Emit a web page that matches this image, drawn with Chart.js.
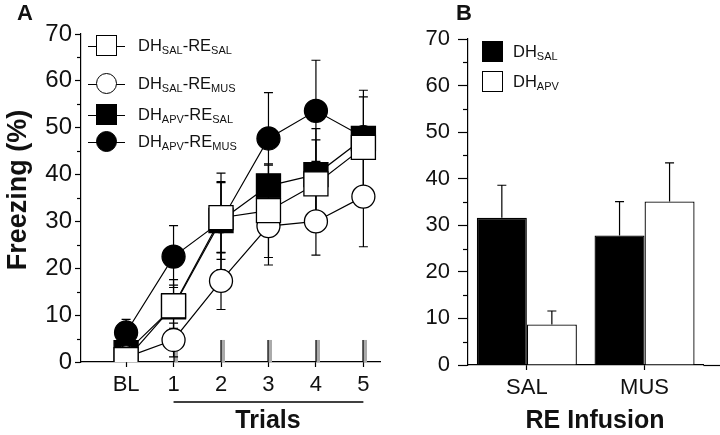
<!DOCTYPE html>
<html>
<head>
<meta charset="utf-8">
<script src="https://cdn.jsdelivr.net/npm/chart.js@4.4.1/dist/chart.umd.min.js"></script>
<style>
  html, body { margin: 0; padding: 0; background: #fff; }
  body { position: relative; width: 720px; height: 435px; overflow: hidden;
         font-family: "Liberation Sans", Arial, Helvetica, sans-serif; color: #111; }
  #boxA { position: absolute; left: 0; top: 0; width: 400px; height: 435px; }
  #boxB { position: absolute; left: 400px; top: 0; width: 320px; height: 435px; }
  .tag { position: absolute; font-weight: bold; font-size: 22px; line-height: 1; }
  .title { position: absolute; font-weight: bold; font-size: 25px; line-height: 1; white-space: nowrap;
           transform: translate(-50%, -50%); }
  .row { position: absolute; height: 24px; width: 220px; transform: translateY(-50%); }
  .row .ln { position: absolute; left: 0; width: 37px; top: 11.5px; border-top: 1.3px solid #000; }
  .row .mk { position: absolute; box-sizing: border-box; border: 1.3px solid #000; background: #fff; }
  .row .tx { position: absolute; left: 50px; top: 2px; font-size: 16.5px; line-height: 18px; white-space: nowrap; }
  .rowB { position: absolute; height: 21px; width: 120px; }
  .rowB .mk { position: absolute; left: 0; top: 0; width: 21px; height: 21px; box-sizing: border-box; border: 1.3px solid #000; }
  .rowB .tx { position: absolute; left: 31px; top: 1px; font-size: 16.5px; line-height: 18px; white-space: nowrap; }
  sub { font-size: 11px; vertical-align: -3px; line-height: 0; }
</style>
</head>
<body>
<div id="boxA"><canvas id="chartA"></canvas></div>
<div id="boxB"><canvas id="chartB"></canvas></div>

<div class="tag" style="left:17px; top:2px;">A</div>
<div class="tag" style="left:456px; top:2px;">B</div>

<div class="title" style="left:17px; top:190px; font-size:27px; transform: translate(-50%,-50%) rotate(-90deg);">Freezing (%)</div>
<div class="title" style="left:268px; top:419px;">Trials</div>
<div class="title" style="left:595px; top:419px;">RE Infusion</div>

<!-- panel A legend -->
<div class="row" style="left:88px; top:46px;">
  <div class="ln"></div><div class="mk" style="left:8px; top:1px; width:21px; height:21px;"></div>
  <div class="tx">DH<sub>SAL</sub>-RE<sub>SAL</sub></div>
</div>
<div class="row" style="left:88px; top:84px;">
  <div class="ln"></div><div class="mk" style="left:8px; top:1px; width:21px; height:21px; border-radius:50%;"></div>
  <div class="tx">DH<sub>SAL</sub>-RE<sub>MUS</sub></div>
</div>
<div class="row" style="left:88px; top:115px;">
  <div class="ln"></div><div class="mk" style="left:8px; top:1px; width:21px; height:21px; background:#000;"></div>
  <div class="tx">DH<sub>APV</sub>-RE<sub>SAL</sub></div>
</div>
<div class="row" style="left:88px; top:142px;">
  <div class="ln"></div><div class="mk" style="left:8px; top:1px; width:21px; height:21px; border-radius:50%; background:#000;"></div>
  <div class="tx">DH<sub>APV</sub>-RE<sub>MUS</sub></div>
</div>

<!-- panel B legend -->
<div class="rowB" style="left:482px; top:41px;">
  <div class="mk" style="background:#000;"></div><div class="tx">DH<sub>SAL</sub></div>
</div>
<div class="rowB" style="left:482px; top:71px;">
  <div class="mk" style="background:#fff;"></div><div class="tx">DH<sub>APV</sub></div>
</div>

<script>
// Panel A: freezing across trials (mean, SEM)
const trialLabels = ['BL', '1', '2', '3', '4', '5'];
const trialPos = [0, 1, 2, 3, 4, 5];
const shockTrials = [1, 2, 3, 4, 5];

const salSalMean = [0.5, 12, 30.8, 32.3, 38, 45.8];
const salSalSem = [1, 5.6, 7.5, 10, 9.4, 10.8];
const salMusMean = [1, 4.7, 17.3, 29, 30, 35.3];
const salMusSem = [1, 3.6, 6.1, 8.3, 7.2, 10.7];
const apvSalMean = [2, 11.8, 30.2, 37.6, 40, 47.7];
const apvSalSem = [1.5, 4.6, 8.3, 4.4, 9.8, 10.3];
const apvMusMean = [6.3, 22.5, 30, 47.7, 53.6, 48];
const apvMusSem = [2.8, 6.6, 10.3, 9.8, 10.8, 2];

// Panel B: freezing by RE infusion
const reGroups = ['SAL', 'MUS'];
const dhSalMean = [31.6, 27.8];
const dhSalSem = [7.0, 7.3];
const dhApvMean = [8.7, 35.1];
const dhApvSem = [2.9, 8.3];

const minorTicks = [5, 15, 25, 35, 45, 55, 65];

const FONT = '"Liberation Sans", Arial, Helvetica, sans-serif';
const INK = '#000';

function pts(means) {
  return trialPos.map((x, i) => ({ x, y: means[i] }));
}

// short unlabeled ticks between the labelled ones
const minorTickPlugin = {
  id: 'minorTicks',
  afterDraw(chart, args, opts) {
    const { ctx, scales: { y } } = chart;
    ctx.save();
    ctx.strokeStyle = INK;
    ctx.lineWidth = 1.2;
    for (const v of minorTicks) {
      const py = Math.round(y.getPixelForValue(v)) + 0.5;
      ctx.beginPath();
      ctx.moveTo(y.right - opts.length, py);
      ctx.lineTo(y.right, py);
      ctx.stroke();
    }
    ctx.restore();
  },
};

const groupsA = [
  { mean: salSalMean, sem: salSalSem, style: 'rect', radius: 17, fill: '#fff' },
  { mean: salMusMean, sem: salMusSem, style: 'circle', radius: 11.5, fill: '#fff' },
  { mean: apvSalMean, sem: apvSalSem, style: 'rect', radius: 17, fill: '#000' },
  { mean: apvMusMean, sem: apvMusSem, style: 'circle', radius: 11.5, fill: '#000' },
];

// error bars + shock marks sit behind markers
const behindA = {
  id: 'behindA',
  beforeDatasetsDraw(chart) {
    const { ctx, chartArea, scales: { x, y } } = chart;
    ctx.save();
    ctx.beginPath();
    ctx.rect(chartArea.left, chartArea.top - 40, chartArea.width, chartArea.height + 40);
    ctx.clip();

    // shock marks
    const y0 = y.getPixelForValue(0);
    const y1 = y.getPixelForValue(4.7);
    for (const t of shockTrials) {
      const px = Math.round(x.getPixelForValue(t));
      ctx.fillStyle = '#aaa';
      ctx.fillRect(px, y1, 4, y0 - y1);
      ctx.strokeStyle = INK;
      ctx.lineWidth = 1.2;
      ctx.beginPath();
      ctx.moveTo(px, y1);
      ctx.lineTo(px, y0);
      ctx.stroke();
    }

    ctx.strokeStyle = INK;
    ctx.lineWidth = 1.2;
    for (const g of groupsA) {
      trialPos.forEach((t, i) => {
        const px = x.getPixelForValue(t);
        const top = y.getPixelForValue(g.mean[i] + g.sem[i]);
        const bot = y.getPixelForValue(g.mean[i] - g.sem[i]);
        ctx.beginPath();
        ctx.moveTo(px, top);
        ctx.lineTo(px, bot);
        ctx.moveTo(px - 4.5, top);
        ctx.lineTo(px + 4.5, top);
        ctx.moveTo(px - 4.5, bot);
        ctx.lineTo(px + 4.5, bot);
        ctx.stroke();
      });
    }
    ctx.restore();
  },
  afterDraw(chart) {
    // underline spanning trials 1-5
    const { ctx, scales: { x } } = chart;
    ctx.save();
    ctx.strokeStyle = INK;
    ctx.lineWidth = 1.5;
    ctx.beginPath();
    ctx.moveTo(x.getPixelForValue(shockTrials[0]), 402);
    ctx.lineTo(x.getPixelForValue(shockTrials[shockTrials.length - 1]), 402);
    ctx.stroke();
    ctx.restore();
  },
};

const chartA = new Chart(document.getElementById('chartA'), {
  type: 'scatter',
  data: {
    datasets: [
      ...groupsA.map((g, i) => ({
        data: pts(g.mean),
        showLine: false,
        pointStyle: g.style,
        pointRadius: g.radius,
        pointBackgroundColor: g.fill,
        pointBorderColor: INK,
        pointBorderWidth: 1.3,
        order: i,
      })),
      ...groupsA.map((g) => ({
        data: pts(g.mean),
        showLine: true,
        borderColor: INK,
        borderWidth: 1.2,
        pointRadius: 0,
        order: 10,
      })),
    ],
  },
  options: {
    responsive: true,
    maintainAspectRatio: false,
    animation: false,
    events: [],
    layout: { padding: { left: 0, top: 34, right: 20, bottom: 0 } },
    plugins: { legend: { display: false }, tooltip: { enabled: false }, minorTicks: { length: 4 } },
    scales: {
      x: {
        type: 'linear',
        min: -0.95,
        max: 5.35,
        afterFit: (s) => { s.height = 73; },
        afterBuildTicks: (s) => { s.ticks = trialPos.map((v) => ({ value: v })); },
        ticks: {
          autoSkip: false,
          maxRotation: 0,
          padding: 5,
          color: '#111',
          font: { family: FONT, size: 22 },
          callback: (v, i) => trialLabels[i],
        },
        grid: { drawOnChartArea: false, tickLength: 5, tickColor: INK, tickWidth: 1.2 },
        border: { color: INK, width: 1.2 },
      },
      y: {
        min: 0,
        max: 70,
        afterFit: (s) => { s.width = 81; },
        ticks: { stepSize: 10, padding: 3, color: '#111', font: { family: FONT, size: 24 } },
        grid: { drawOnChartArea: false, tickLength: 6, tickColor: INK, tickWidth: 1.2 },
        border: { color: INK, width: 1.2 },
      },
    },
  },
  plugins: [behindA, minorTickPlugin],
});

const barErrors = {
  id: 'barErrors',
  afterDatasetsDraw(chart) {
    const { ctx, scales: { y } } = chart;
    const sems = [dhSalSem, dhApvSem];
    const means = [dhSalMean, dhApvMean];
    ctx.save();
    ctx.strokeStyle = INK;
    ctx.lineWidth = 1.2;
    sems.forEach((sem, d) => {
      chart.getDatasetMeta(d).data.forEach((bar, i) => {
        const top = y.getPixelForValue(means[d][i] + sem[i]);
        ctx.beginPath();
        ctx.moveTo(bar.x, bar.y);
        ctx.lineTo(bar.x, top);
        ctx.moveTo(bar.x - 4.5, top);
        ctx.lineTo(bar.x + 4.5, top);
        ctx.stroke();
      });
    });
    ctx.restore();
  },
  afterDraw(chart) {
    // x axis runs on to the right edge of the figure
    const { ctx, chartArea, width } = chart;
    ctx.save();
    ctx.strokeStyle = INK;
    ctx.lineWidth = 1.2;
    ctx.beginPath();
    ctx.moveTo(chartArea.right, chartArea.bottom + 0.5);
    ctx.lineTo(width, chartArea.bottom + 0.5);
    ctx.stroke();
    ctx.restore();
  },
};

const chartB = new Chart(document.getElementById('chartB'), {
  type: 'bar',
  data: {
    labels: reGroups,
    datasets: [
      { data: dhSalMean, backgroundColor: '#000', borderColor: INK, borderWidth: 1.3,
        borderSkipped: 'bottom', categoryPercentage: 0.85, barPercentage: 1 },
      { data: dhApvMean, backgroundColor: '#fff', borderColor: INK, borderWidth: 1.3,
        borderSkipped: 'bottom', categoryPercentage: 0.85, barPercentage: 1 },
    ],
  },
  options: {
    responsive: true,
    maintainAspectRatio: false,
    animation: false,
    events: [],
    layout: { padding: { left: 0, top: 39, right: 16.6, bottom: 0 } },
    plugins: { legend: { display: false }, tooltip: { enabled: false }, minorTicks: { length: 5 } },
    scales: {
      x: {
        afterFit: (s) => { s.height = 70; },
        ticks: { padding: 5, color: '#111', font: { family: FONT, size: 22 } },
        grid: { offset: false, drawOnChartArea: false, tickLength: 5, tickColor: INK, tickWidth: 1.2 },
        border: { color: INK, width: 1.2 },
      },
      y: {
        min: 0,
        max: 70,
        afterFit: (s) => { s.width = 68; },
        ticks: { stepSize: 10, padding: 8, color: '#111', font: { family: FONT, size: 22 } },
        grid: { drawOnChartArea: false, tickLength: 10, tickColor: INK, tickWidth: 1.2 },
        border: { color: INK, width: 1.2 },
      },
    },
  },
  plugins: [barErrors, minorTickPlugin],
});
</script>
</body>
</html>
